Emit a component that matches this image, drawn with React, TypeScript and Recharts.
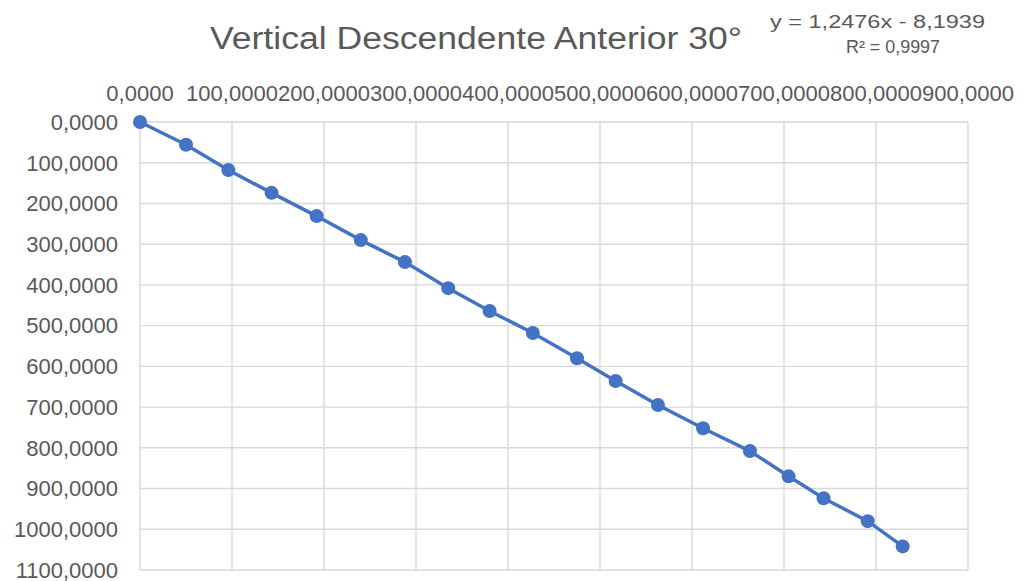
import { ScatterChart, Scatter, XAxis, YAxis, CartesianGrid } from 'recharts'

const xValues = [0, 50, 96, 143, 192, 240, 288, 335, 380, 427, 475, 517, 563, 612, 663, 705, 743, 791, 829]
const yValues = [0, 56, 118, 174, 231, 290, 344, 408, 464, 518, 580, 636, 695, 752, 808, 870, 924, 980, 1042]
const xTicks = [0, 100, 200, 300, 400, 500, 600, 700, 800, 900]
const yTicks = [0, 100, 200, 300, 400, 500, 600, 700, 800, 900, 1000, 1100]

const title = 'Vertical Descendente Anterior 30°'
const equation = 'y = 1,2476x - 8,1939'
const rSquared = 'R² = 0,9997'

const points = xValues.map((x, i) => ({ x, y: yValues[i] }))

const blue = '#4472C4'
const textGray = '#595959'
const font = '"Liberation Sans", Arial, sans-serif'

const fmt = (v: number) => v.toFixed(4).replace('.', ',')

const tickStyle = { fill: textGray, fontSize: 22, fontFamily: font }

export default function App() {
  return (
    <div style={{ position: 'relative', width: 1017, height: 585 }}>
      <ScatterChart width={1017} height={585} margin={{ top: 84, right: 57, bottom: 23, left: 0 }}>
        <CartesianGrid stroke="#d9d9d9" strokeWidth={1.4} />
        <XAxis
          type="number"
          dataKey="x"
          orientation="top"
          domain={[0, 900]}
          ticks={xTicks}
          interval={0}
          tickFormatter={fmt}
          axisLine={false}
          tickLine={false}
          tickSize={0}
          tickMargin={21}
          height={30}
          tick={tickStyle}
        />
        <YAxis
          type="number"
          dataKey="y"
          reversed
          domain={[0, 1100]}
          ticks={yTicks}
          interval={0}
          tickFormatter={fmt}
          axisLine={false}
          tickLine={false}
          tickSize={0}
          tickMargin={22}
          width={132}
          tick={tickStyle}
        />
        <Scatter
          data={points}
          isAnimationActive={false}
          line={{ stroke: blue, strokeWidth: 3.5 }}
          lineType="joint"
          shape={(p: any) => <circle cx={p.cx} cy={p.cy} r={7} fill={blue} />}
        />
      </ScatterChart>
      <svg width={1017} height={80} style={{ position: 'absolute', left: 0, top: 0, pointerEvents: 'none' }}>
        <text x={202} y={41} fontSize={31} fill={textGray} fontFamily={font} textLength={532} lengthAdjust="spacingAndGlyphs">
          {title}
        </text>
        <text x={762} y={20} fontSize={18} fill={textGray} fontFamily={font} textLength={215} lengthAdjust="spacingAndGlyphs">
          {equation}
        </text>
        <text x={838} y={45} fontSize={18} fill={textGray} fontFamily={font} textLength={94} lengthAdjust="spacingAndGlyphs">
          {rSquared}
        </text>
      </svg>
    </div>
  )
}
